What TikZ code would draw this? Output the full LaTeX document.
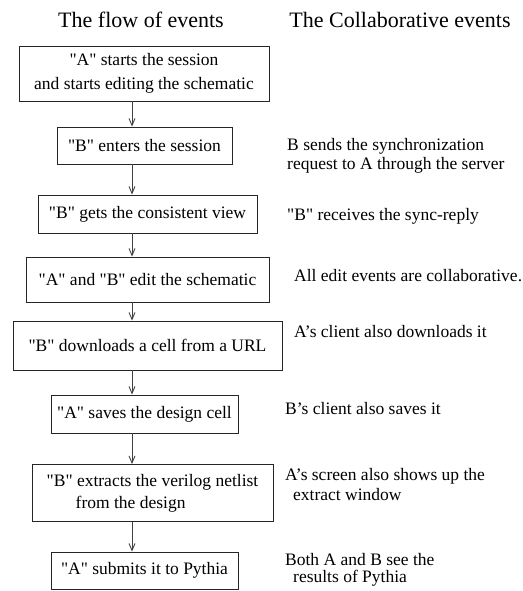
\documentclass[tikz,border=0pt]{standalone}
\usepackage{fontspec}
\setmainfont{Liberation Serif}[Ligatures=TeXOff]
\usetikzlibrary{arrows.meta}
\begin{document}
\begin{tikzpicture}[x=1pt,y=-1pt,
  title/.style={font=\fontsize{22}{26}\selectfont, inner sep=0pt},
  event/.style={draw=black!85, line width=0.9pt, rectangle, inner sep=0pt,
    align=center, font=\fontsize{17.5}{24}\selectfont},
  note/.style={anchor=west, inner sep=0pt, align=left,
    font=\fontsize{17.5}{20}\selectfont},
  flow/.style={draw=black!75, line width=0.9pt,
    -{Straight Barb[length=7pt,width=6pt,line width=0.9pt]}}]
\useasboundingbox (0,0) rectangle (522,591);

% column headings
\node[title] (h1) at (141,20) {The flow of events};
\node[title] (h2) at (400,20) {The Collaborative events};

% the event boxes
\node[event, minimum width=250pt, minimum height=55pt] (b1) at (144,73.5)
  {"A" starts the session\\and starts editing the schematic};
\node[event, minimum width=175pt, minimum height=37pt] (b2) at (144.5,145.5)
  {"B" enters the session};
\node[event, minimum width=219pt, minimum height=38pt] (b3) at (147.5,214)
  {"B" gets the consistent view};
\node[event, minimum width=243pt, minimum height=45pt] (b4) at (147.5,279.5)
  {"A" and "B" edit the schematic};
\node[event, minimum width=269pt, minimum height=49pt] (b5) at (147.5,345.5)
  {"B" downloads a cell from a URL};
\node[event, minimum width=187pt, minimum height=38pt] (b6) at (144.5,414)
  {"A" saves the design cell};
\node[event, minimum width=241pt, minimum height=57pt, align=left,
  font=\fontsize{17.5}{22}\selectfont] (b7) at (152.5,493)
  {"B" extracts the verilog netlist\\\hspace*{29pt}from the design};
\node[event, minimum width=187pt, minimum height=37pt] (b8) at (144.5,570.5)
  {"A" submits it to Pythia};

% arrows down the left column
\coordinate (ax) at (132,0);
\foreach \a/\b in {b1/b2,b2/b3,b3/b4,b4/b5,b5/b6,b6/b7,b7/b8}
  \draw[flow] (\a.south -| ax) -- (\b.north -| ax);

% collaborative events
\node[note, font=\fontsize{17.5}{19}\selectfont] (n2) at (287,156)
  {B sends the synchronization\\request to A through the server};
\node[note] (n3) at (287,216) {"B" receives the sync-reply};
\node[note] (n4) at (294,276) {All edit events are collaborative.};
\node[note] (n5) at (294,332) {A’s client also downloads it};
\node[note] (n6) at (285,409) {B’s client also saves it};
\node[note] (n7) at (285,485)
  {A’s screen also shows up the\\\hspace*{8pt}extract window};
\node[note, font=\fontsize{17.5}{16.5}\selectfont] (n8) at (285,570)
  {Both A and B see the\\\hspace*{8pt}results of Pythia};
\end{tikzpicture}
\end{document}
